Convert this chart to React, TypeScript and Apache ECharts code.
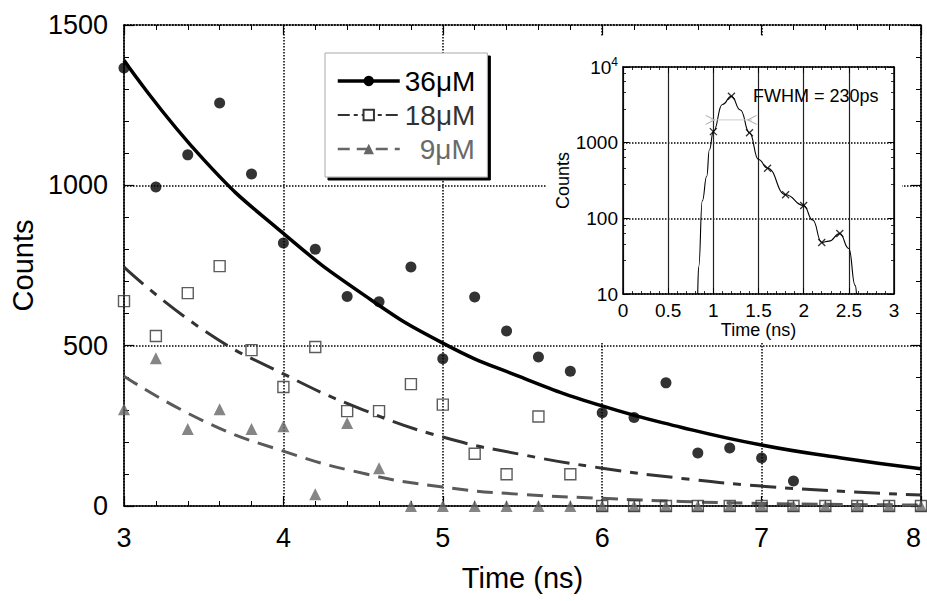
import React, { useEffect, useRef } from 'react';
import * as echarts from 'echarts';

// ---- main panel data (time in ns, counts) ----
const timeNs = [3.0, 3.2, 3.4, 3.6, 3.8, 4.0, 4.2, 4.4, 4.6, 4.8, 5.0, 5.2, 5.4, 5.6, 5.8, 6.0, 6.2, 6.4, 6.6, 6.8, 7.0, 7.2, 7.4, 7.6, 7.8, 8.0];
const counts36 = [1366, 995, 1095, 1257, 1035, 820, 801, 653, 637, 745, 459, 652, 546, 465, 420, 291, 276, 384, 165, 181, 150, 78, null, null, null, null];
const counts18 = [639, 530, 664, 748, 486, 371, 496, 296, 296, 380, 316, 163, 99, 279, 99, 0, 0, 0, 0, 0, 0, 0, 0, 0, 0, 0];
const counts9 = [302, 461, 240, 302, 240, 249, 37, 259, 118, 0, 0, 0, 0, 0, 0, 0, 0, 0, 0, 0, 0, 0, 0, 0, 0, 0];

// fitted decay curves, read at 0.5 ns steps
const fitTime = [3.0, 3.5, 4.0, 4.5, 5.0, 5.5, 6.0, 6.5, 7.0, 7.5, 8.0];
const fit36 = [1390, 1080, 850, 660, 508, 400, 312, 245, 190, 150, 116];
const fit18 = [745, 548, 412, 300, 215, 160, 118, 86, 62, 46, 34];
const fit9 = [405, 265, 171, 102, 59, 36, 24, 14, 8, 5, 3];

const legendNames = ['36μM', '18μM', '9μM'];
const xTicksMain = [3, 4, 5, 6, 7, 8];
const yTicksMain = [0, 500, 1000, 1500];

// ---- inset (instrument response) ----
const irfTime = [0.827, 0.838, 0.878, 0.927, 0.956, 1.0, 1.1, 1.2, 1.3, 1.4, 1.5, 1.6, 1.8, 2.0, 2.1, 2.2, 2.28, 2.4, 2.5, 2.57, 2.585];
const irfCounts = [10, 23, 170, 360, 800, 1400, 3200, 4100, 2700, 1350, 600, 460, 205, 148, 95, 48, 50, 63, 40, 13, 10];
const markTime = [1.0, 1.2, 1.4, 1.6, 1.8, 2.0, 2.2, 2.4];
const markCounts = [1400, 4100, 1350, 460, 205, 148, 48, 63];
const fwhmTime = [0.965, 1.43];
const fwhmCounts = [2000, 2000];
const fwhmText = 'FWHM = 230ps';

const FONT = '"Liberation Sans", Arial, Helvetica, sans-serif';

const zip = (xs: number[], ys: (number | null)[]) =>
  xs.map((x, i) => [x, ys[i]]).filter((d) => d[1] !== null && d[1] !== undefined);

export default function App() {
  const ref = useRef<HTMLDivElement>(null);

  useEffect(() => {
    if (!ref.current) return;
    const chart = echarts.init(ref.current, undefined, { renderer: 'svg' });

    const black = '#000';
    const mainTickCommon = {
      axisTick: { inside: true, length: 10, lineStyle: { color: black, width: 1.2 } },
      minorTick: { show: true, splitNumber: 5, length: 5, lineStyle: { color: black, width: 1 } },
    };
    const insetTickCommon = {
      axisTick: { inside: true, length: 6, lineStyle: { color: black, width: 1 } },
      minorTick: { show: true, splitNumber: 5, length: 3, lineStyle: { color: black, width: 0.8 } },
    };

    const option: any = {
      animation: false,
      backgroundColor: '#fff',
      textStyle: { fontFamily: FONT },
      grid: [
        { left: 124, top: 25, width: 797, height: 481, containLabel: false, outerBoundsMode: 'none' },
        { left: 623, top: 67, width: 271, height: 227, containLabel: false, outerBoundsMode: 'none' },
      ],
      xAxis: [
        {
          gridIndex: 0, type: 'value', position: 'bottom',
          min: xTicksMain[0], max: xTicksMain[xTicksMain.length - 1], interval: 1,
          axisLine: { lineStyle: { color: black, width: 1.5 } },
          ...mainTickCommon,
          axisLabel: { fontSize: 27, color: black, margin: 18, fontFamily: FONT, alignMaxLabel: 'right', formatter: (v: number) => String(v) },
          splitLine: { show: true, lineStyle: { type: 'dotted', color: black, width: 1.5 } },
          name: 'Time (ns)', nameLocation: 'middle', nameGap: 57,
          nameTextStyle: { fontSize: 29, color: black, fontFamily: FONT },
        },
        {
          gridIndex: 0, type: 'value', position: 'top',
          min: xTicksMain[0], max: xTicksMain[xTicksMain.length - 1], interval: 1,
          axisLine: { onZero: false, lineStyle: { color: black, width: 1.5, type: 'dotted' } },
          ...mainTickCommon,
          axisLabel: { show: false },
          splitLine: { show: false },
        },
        {
          gridIndex: 1, type: 'value', position: 'bottom', min: 0, max: 3, interval: 0.5, z: 3,
          axisLine: { lineStyle: { color: black, width: 1.5 } },
          ...insetTickCommon,
          axisLabel: { fontSize: 19, color: black, margin: 7, fontFamily: FONT, formatter: (v: number) => String(v) },
          splitLine: { show: true, lineStyle: { color: '#222', width: 1.2 } },
          name: 'Time (ns)', nameLocation: 'middle', nameGap: 26,
          nameTextStyle: { fontSize: 18, color: black, fontFamily: FONT },
        },
        {
          gridIndex: 1, type: 'value', position: 'top', min: 0, max: 3, interval: 0.5, z: 3,
          axisLine: { onZero: false, lineStyle: { color: black, width: 1.5 } },
          ...insetTickCommon,
          axisLabel: { show: false },
          splitLine: { show: false },
        },
      ],
      yAxis: [
        {
          gridIndex: 0, type: 'value', position: 'left',
          min: yTicksMain[0], max: yTicksMain[yTicksMain.length - 1], interval: 500,
          axisLine: { show: true, lineStyle: { color: black, width: 1.5 } },
          ...mainTickCommon,
          axisLabel: { fontSize: 27, color: black, margin: 16, fontFamily: FONT, formatter: (v: number) => String(v) },
          splitLine: { show: true, lineStyle: { type: 'dotted', color: black, width: 1.5 } },
          name: 'Counts', nameLocation: 'middle', nameGap: 78,
          nameTextStyle: { fontSize: 29, color: black, fontFamily: FONT },
        },
        {
          gridIndex: 0, type: 'value', position: 'right',
          min: yTicksMain[0], max: yTicksMain[yTicksMain.length - 1], interval: 500,
          axisLine: { show: true, onZero: false, lineStyle: { color: black, width: 1.5 } },
          ...mainTickCommon,
          axisLabel: { show: false },
          splitLine: { show: false },
        },
        {
          gridIndex: 1, type: 'log', logBase: 10, min: 10, max: 10000, position: 'left', z: 3,
          axisLine: { show: true, lineStyle: { color: black, width: 1.5 } },
          ...insetTickCommon,
          axisLabel: {
            fontSize: 19, color: black, margin: 5, fontFamily: FONT,
            formatter: (v: number) => (Math.round(Math.log10(v)) === 4 ? '{b|10}{s|4}' : String(Math.round(v))),
            rich: {
              b: { fontSize: 19, fontFamily: FONT, color: black },
              s: { fontSize: 12, fontFamily: FONT, color: black, verticalAlign: 'top', padding: [0, 0, 10, 0] },
            },
          },
          splitLine: { show: true, lineStyle: { type: 'dotted', color: black, width: 1.5 } },
          name: 'Counts', nameLocation: 'middle', nameGap: 50,
          nameTextStyle: { fontSize: 18, color: black, fontFamily: FONT },
        },
        {
          gridIndex: 1, type: 'log', logBase: 10, min: 10, max: 10000, position: 'right', z: 3,
          axisLine: { show: true, onZero: false, lineStyle: { color: black, width: 1.5 } },
          ...insetTickCommon,
          axisLabel: { show: false },
          splitLine: { show: false },
        },
      ],
      legend: {
        left: 325, top: 53, orient: 'vertical',
        data: [
          { name: legendNames[0], textStyle: { color: '#000' }, lineStyle: { width: 3.5, color: '#000' } },
          { name: legendNames[1], textStyle: { color: '#333' }, lineStyle: { width: 2.2, color: '#333', type: [12, 4, 4, 4] } },
          { name: legendNames[2], textStyle: { color: '#6a6a6a', padding: [0, 0, 0, 15] }, lineStyle: { width: 2.5, color: '#666', type: [12, 7] } },
        ],
        itemWidth: 62, itemHeight: 13, itemGap: 6,
        padding: [14, 12, 14, 11],
        textStyle: { fontSize: 28, fontFamily: FONT },
        backgroundColor: '#fff', borderColor: '#aaa', borderWidth: 1,
        shadowColor: '#000', shadowBlur: 0, shadowOffsetX: 3, shadowOffsetY: 3,
        selectedMode: false,
        z: 6,
      },
      graphic: {
        elements: [
          { type: 'rect', silent: true, z: 1, shape: { x: 547, y: 36, width: 355, height: 306 }, style: { fill: '#fff' } },
          { type: 'text', silent: true, z: 10, x: 753, y: 96, style: { text: fwhmText, fontSize: 18, fontFamily: FONT, fill: '#000', verticalAlign: 'middle' } },
        ],
      },
      series: [
        {
          name: legendNames[0], type: 'line', xAxisIndex: 0, yAxisIndex: 0,
          data: zip(fitTime, fit36), smooth: true, showSymbol: false, symbol: 'circle',
          lineStyle: { color: '#000', width: 3.5 }, itemStyle: { color: '#000' }, z: 3,
        },
        {
          name: legendNames[1], type: 'line', xAxisIndex: 0, yAxisIndex: 0,
          data: zip(fitTime, fit18), smooth: true, showSymbol: false, symbol: 'emptyRect',
          lineStyle: { color: '#333', width: 3, type: [26, 9, 8, 9] }, itemStyle: { color: '#333' }, z: 3,
        },
        {
          name: legendNames[2], type: 'line', xAxisIndex: 0, yAxisIndex: 0,
          data: zip(fitTime, fit9), smooth: true, showSymbol: false, symbol: 'triangle',
          lineStyle: { color: '#5a5a5a', width: 3, type: [16, 9] }, itemStyle: { color: '#666' }, z: 3,
        },
        {
          name: 'pts9', type: 'scatter', xAxisIndex: 0, yAxisIndex: 0, clip: false,
          data: zip(timeNs, counts9), symbol: 'triangle', symbolSize: 12,
          itemStyle: { color: '#666' }, z: 4,
        },
        {
          name: 'pts18', type: 'scatter', xAxisIndex: 0, yAxisIndex: 0, clip: false,
          data: zip(timeNs, counts18), symbol: 'rect', symbolSize: 11,
          itemStyle: { color: 'rgba(255,255,255,0)', borderColor: '#333', borderWidth: 1.4 }, z: 5,
        },
        {
          name: 'pts36', type: 'scatter', xAxisIndex: 0, yAxisIndex: 0, clip: false,
          data: zip(timeNs, counts36), symbol: 'circle', symbolSize: 11,
          itemStyle: { color: '#000' }, z: 6,
        },
        {
          name: 'irf', type: 'line', xAxisIndex: 2, yAxisIndex: 2,
          data: zip(irfTime, irfCounts), smooth: 0.5, smoothMonotone: 'x', showSymbol: false,
          lineStyle: { color: '#000', width: 1.1 }, z: 5,
        },
        {
          name: 'irfMarks', type: 'scatter', xAxisIndex: 2, yAxisIndex: 2,
          data: zip(markTime, markCounts), symbol: 'path://M0,0 L10,10 M10,0 L0,10', symbolSize: 7,
          itemStyle: { color: 'rgba(0,0,0,0)', borderColor: '#000', borderWidth: 1.3 }, z: 6,
        },
        {
          name: 'fwhm', type: 'line', xAxisIndex: 2, yAxisIndex: 2,
          data: [
            { value: [fwhmTime[0], fwhmCounts[0]], symbol: 'path://M0,0 L10,5 L0,10' },
            { value: [fwhmTime[1], fwhmCounts[1]], symbol: 'path://M10,0 L0,5 L10,10' },
          ],
          showSymbol: true, symbolSize: 9,
          lineStyle: { color: '#ccc', width: 1 },
          itemStyle: { color: 'rgba(0,0,0,0)', borderColor: '#aaa', borderWidth: 1 }, z: 5,
        },
      ],
    };

    chart.setOption(option);
    return () => chart.dispose();
  }, []);

  return <div ref={ref} style={{ position: 'fixed', left: 0, top: 0, width: 927, height: 601 }} />;
}
